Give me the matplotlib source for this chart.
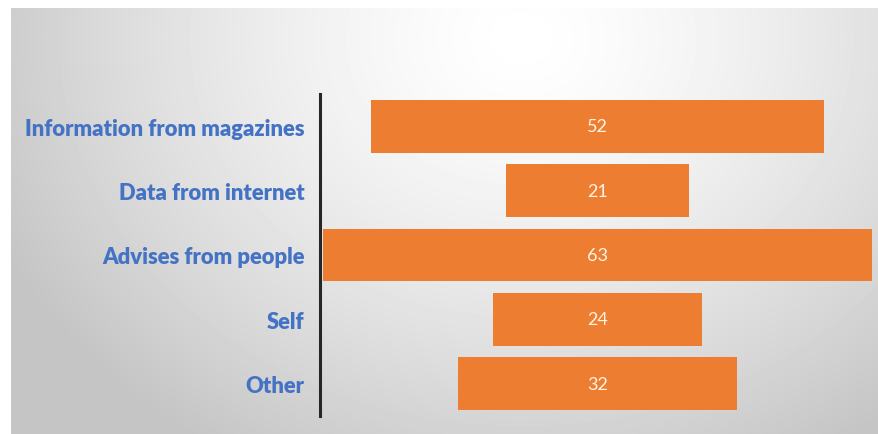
import matplotlib
matplotlib.use("Agg")
import matplotlib.pyplot as plt
import numpy as np

categories = ["Information from magazines", "Data from internet",
              "Advises from people", "Self", "Other"]
values = [52, 21, 63, 24, 32]

W, H, DPI = 879, 435, 100
BAR_COLOR = "#ED7D31"
LABEL_COLOR = "#4472C4"

fig = plt.figure(figsize=(W / DPI, H / DPI), dpi=DPI)
fig.patch.set_facecolor("white")

# gray panel with soft radial highlight near the top
bg = fig.add_axes([11 / W, 0, 1 - 11 / W, (H - 9) / H])
yy, xx = np.mgrid[0:426, 0:868]
cx, cy = 510, 30
d = np.sqrt(((xx - cx) / 560.0) ** 2 + ((yy - cy) / 470.0) ** 2)
shade = np.clip(1.0 - 0.22 * d ** 1.4, 0.77, 1.0)
bg.imshow(shade, cmap="gray", vmin=0, vmax=1, aspect="auto",
          interpolation="bilinear")
bg.axis("off")

# funnel axes: x centred at 0, one row per category
ax = fig.add_axes([320 / W, (H - 417) / H, (W - 320) / W, 322 / H])
ax.patch.set_alpha(0)
y = np.arange(len(categories))
vals = np.array(values, dtype=float)
ax.barh(y, vals, left=-vals / 2, height=0.82, color=BAR_COLOR)
for yi, v in zip(y, values):
    ax.text(0, yi, str(v), ha="center", va="center", color="#FFF4E6",
            fontsize=13, family="Lato")

ax.set_xlim(-31.9, 32.35)
ax.set_ylim(len(categories) - 0.5, -0.5)
ax.set_yticks(y)
ax.set_yticklabels(categories, fontsize=15.8, fontweight="heavy",
                   color=LABEL_COLOR, family="Lato")
ax.tick_params(axis="y", length=0, pad=11)
ax.set_xticks([])
for s in ["top", "right", "bottom"]:
    ax.spines[s].set_visible(False)
ax.spines["left"].set_color("#262626")
ax.spines["left"].set_linewidth(2.2)

fig.savefig("out.png", dpi=DPI)
